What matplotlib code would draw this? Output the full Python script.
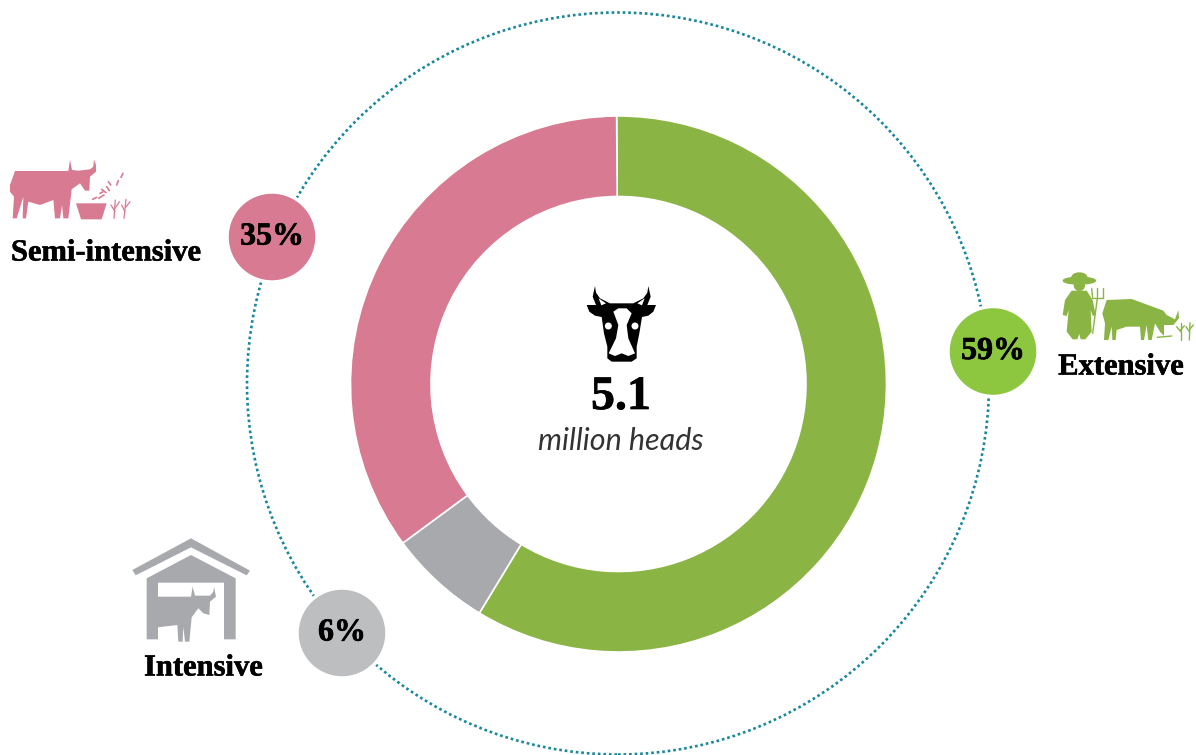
import matplotlib
matplotlib.use("Agg")
import matplotlib.pyplot as plt
from matplotlib.patches import Circle, Polygon, Ellipse
import matplotlib.patheffects as pe

categories = ["Extensive", "Intensive", "Semi-intensive"]
shares = [58.8, 6.2, 35.0]
ring_colors = ["#8AB443", "#A8A9AD", "#D87A91"]
bubble_colors = ["#8DC63F", "#BCBEC0", "#D87A91"]
bubble_labels = ["59%", "6%", "35%"]
total_value = "5.1"
total_unit = "million heads"

W, H = 1196, 755
SERIF = "Liberation Serif"

fig = plt.figure(figsize=(W / 100, H / 100), dpi=100)
ax = fig.add_axes([0, 0, 1, 1])
ax.set_xlim(0, W)
ax.set_ylim(0, H)
ax.axis("off")


def Y(y):
    return H - y


def shape(points, color, ox=0, oy=0, scale=1 / 3, z=6):
    pts = [(ox + x * scale, Y(oy + y * scale)) for x, y in points]
    ax.add_patch(Polygon(pts, closed=True, facecolor=color, edgecolor="none", zorder=z))


def strokes(segments, color, ox, oy, lw=1.0, scale=1 / 3):
    for (x0, y0), (x1, y1) in segments:
        ax.plot([ox + x0 * scale, ox + x1 * scale],
                [Y(oy + y0 * scale), Y(oy + y1 * scale)],
                color=color, lw=lw, solid_capstyle="round", zorder=6)


# Ring
ax.pie(shares, colors=ring_colors, startangle=90.4, counterclock=False,
       center=(618.5, Y(384)), radius=268,
       wedgeprops=dict(width=80.5, edgecolor="white", linewidth=1.2),
       frame=True)
ax.set_xlim(0, W)
ax.set_ylim(0, H)
ax.set_aspect("equal")
ax.axis("off")

# Dotted orbit
ax.add_patch(Circle((618, Y(383.5)), 371, fill=False, edgecolor="#17879A",
                    linewidth=1.9, linestyle=(0, (1.0, 1.1)), zorder=2,
                    clip_on=False))

# Bubbles
bubble_xy = [(993, 351.5), (342, 633), (272, 237)]
for (bx, by), col, lab in zip(bubble_xy, bubble_colors, bubble_labels):
    ax.add_patch(Circle((bx, Y(by)), 45, facecolor=col, edgecolor="white",
                        linewidth=2.5, zorder=4))
    ax.text(bx, Y(by), lab, ha="center", va="center", family=SERIF,
            fontweight="bold", fontsize=23, color="black", zorder=5,
            path_effects=[pe.withStroke(linewidth=0.5, foreground="black")])

# Category labels
for (tx, ty, s) in [(1121, 367, categories[0]), (203.5, 668, categories[1]),
                    (106, 253, categories[2])]:
    ax.text(tx, Y(ty), s, ha="center", va="center", family=SERIF,
            fontweight="bold", fontsize=22, color="black", zorder=5,
            path_effects=[pe.withStroke(linewidth=0.4, foreground="black")])

# Centre text
ax.text(621, Y(397), total_value, ha="center", va="center", family=SERIF,
        fontweight="bold", fontsize=34.5, color="black", zorder=5,
        path_effects=[pe.withStroke(linewidth=0.5, foreground="black")])
ax.text(621, Y(441), total_unit, ha="center", va="center", family="Lato",
        style="italic", fontweight="normal", fontsize=22, color="#333333", zorder=5)

# Head icon
O = (520, 270)
shape([(225, 48), (228, 68), (240, 85), (270, 100), (340, 100), (370, 85), (382, 68),
       (385, 48), (392, 80), (382, 105), (408, 105), (400, 125), (385, 137), (366, 141),
       (358, 190), (350, 230), (350, 265), (335, 275), (275, 275), (262, 265), (262, 230),
       (252, 190), (245, 141), (225, 137), (208, 125), (200, 105), (228, 105), (218, 80)],
      "black", *O)
shape([(280, 125), (295, 115), (320, 115), (335, 130), (320, 165), (325, 205), (345, 250),
       (325, 258), (305, 250), (285, 258), (266, 250), (288, 205), (295, 165)],
      "white", *O, z=7)
for ex in (265, 345):
    ax.add_patch(Circle((O[0] + ex / 3, Y(O[1] + 168 / 3)), 2.8, color="white", zorder=7))
shape([(236, 85), (258, 100), (244, 106)], "white", *O, z=7)
shape([(374, 85), (352, 100), (366, 106)], "white", *O, z=7)

# Semi-intensive icon
P = "#D87A91"
O = (0, 150)
shape([(30, 105), (45, 63), (205, 63), (210, 30), (216, 60), (235, 62), (270, 58), (280, 50),
       (282, 28), (288, 45), (288, 65), (270, 80), (268, 122), (255, 122), (240, 100),
       (215, 118), (205, 205), (190, 205), (186, 165), (180, 205), (165, 205), (160, 150),
       (120, 165), (85, 155), (78, 205), (68, 205), (70, 140), (50, 205), (38, 205),
       (42, 140), (30, 125)], P, *O)
shape([(228, 160), (320, 160), (305, 208), (243, 208)], P, *O)
strokes([((278, 148), (290, 142)), ((296, 145), (312, 135)), ((305, 118), (318, 128)),
         ((325, 95), (332, 105)), ((350, 105), (355, 92)), ((363, 82), (369, 70)),
         ((320, 110), (328, 122)), ((300, 130), (308, 126))], P, *O, lw=1.2)
strokes([((342, 205), (346, 150)), ((345, 185), (333, 165)), ((345, 175), (358, 155)),
         ((372, 205), (378, 148)), ((375, 185), (365, 165)), ((377, 172), (390, 155))],
        P, *O, lw=0.9)

# Extensive icon
G = "#8AB443"
O = (940, 260)
ax.add_patch(Ellipse((O[0] + 418 / 3, Y(O[1] + 62 / 3)), 96 / 3, 20 / 3, color=G, zorder=6))
ax.add_patch(Ellipse((O[0] + 418 / 3, Y(O[1] + 52 / 3)), 44 / 3, 26 / 3, color=G, zorder=6))
ax.add_patch(Circle((O[0] + 418 / 3, Y(O[1] + 76 / 3)), 5, color=G, zorder=6))
shape([(395, 92), (440, 92), (458, 120), (467, 165), (458, 168), (452, 150), (455, 215),
       (436, 238), (422, 238), (418, 222), (412, 238), (398, 238), (380, 215), (386, 150),
       (380, 168), (368, 165), (375, 120)], G, *O)
strokes([((458, 220), (472, 115)), ((455, 85), (458, 115)), ((458, 115), (490, 115)),
         ((490, 115), (490, 85)), ((472, 85), (472, 115))], G, *O, lw=1.0)
shape([(487, 160), (500, 120), (575, 117), (670, 152), (680, 165), (705, 178), (715, 150),
       (717, 175), (700, 195), (672, 195), (672, 228), (660, 215), (645, 190), (635, 240),
       (625, 240), (620, 195), (612, 240), (603, 240), (600, 200), (560, 200), (530, 210),
       (527, 240), (517, 240), (515, 200), (505, 240), (492, 240), (495, 190)], G, *O)
strokes([((652, 232), (695, 228)), ((722, 240), (722, 190)), ((722, 215), (710, 200)),
         ((722, 210), (733, 197)), ((748, 240), (750, 188)), ((748, 215), (738, 200)),
         ((749, 208), (760, 195))], G, *O, lw=1.0)

# Intensive icon
A = "#A8A9AD"
O = (120, 530)
shape([(37, 120), (213, 25), (390, 122), (380, 136), (213, 52), (47, 136)], A, *O)
shape([(80, 145), (213, 75), (347, 145), (347, 328), (312, 328), (312, 158), (114, 158),
       (114, 328), (80, 328)], A, *O)
shape([(114, 200), (213, 200), (218, 170), (225, 197), (270, 197), (280, 185), (282, 170),
       (288, 200), (270, 215), (268, 255), (250, 250), (235, 235), (215, 262), (208, 335),
       (195, 335), (190, 290), (188, 335), (175, 335), (172, 285), (114, 292)], A, *O, z=8)

fig.savefig("out.png", dpi=100, facecolor="white")
